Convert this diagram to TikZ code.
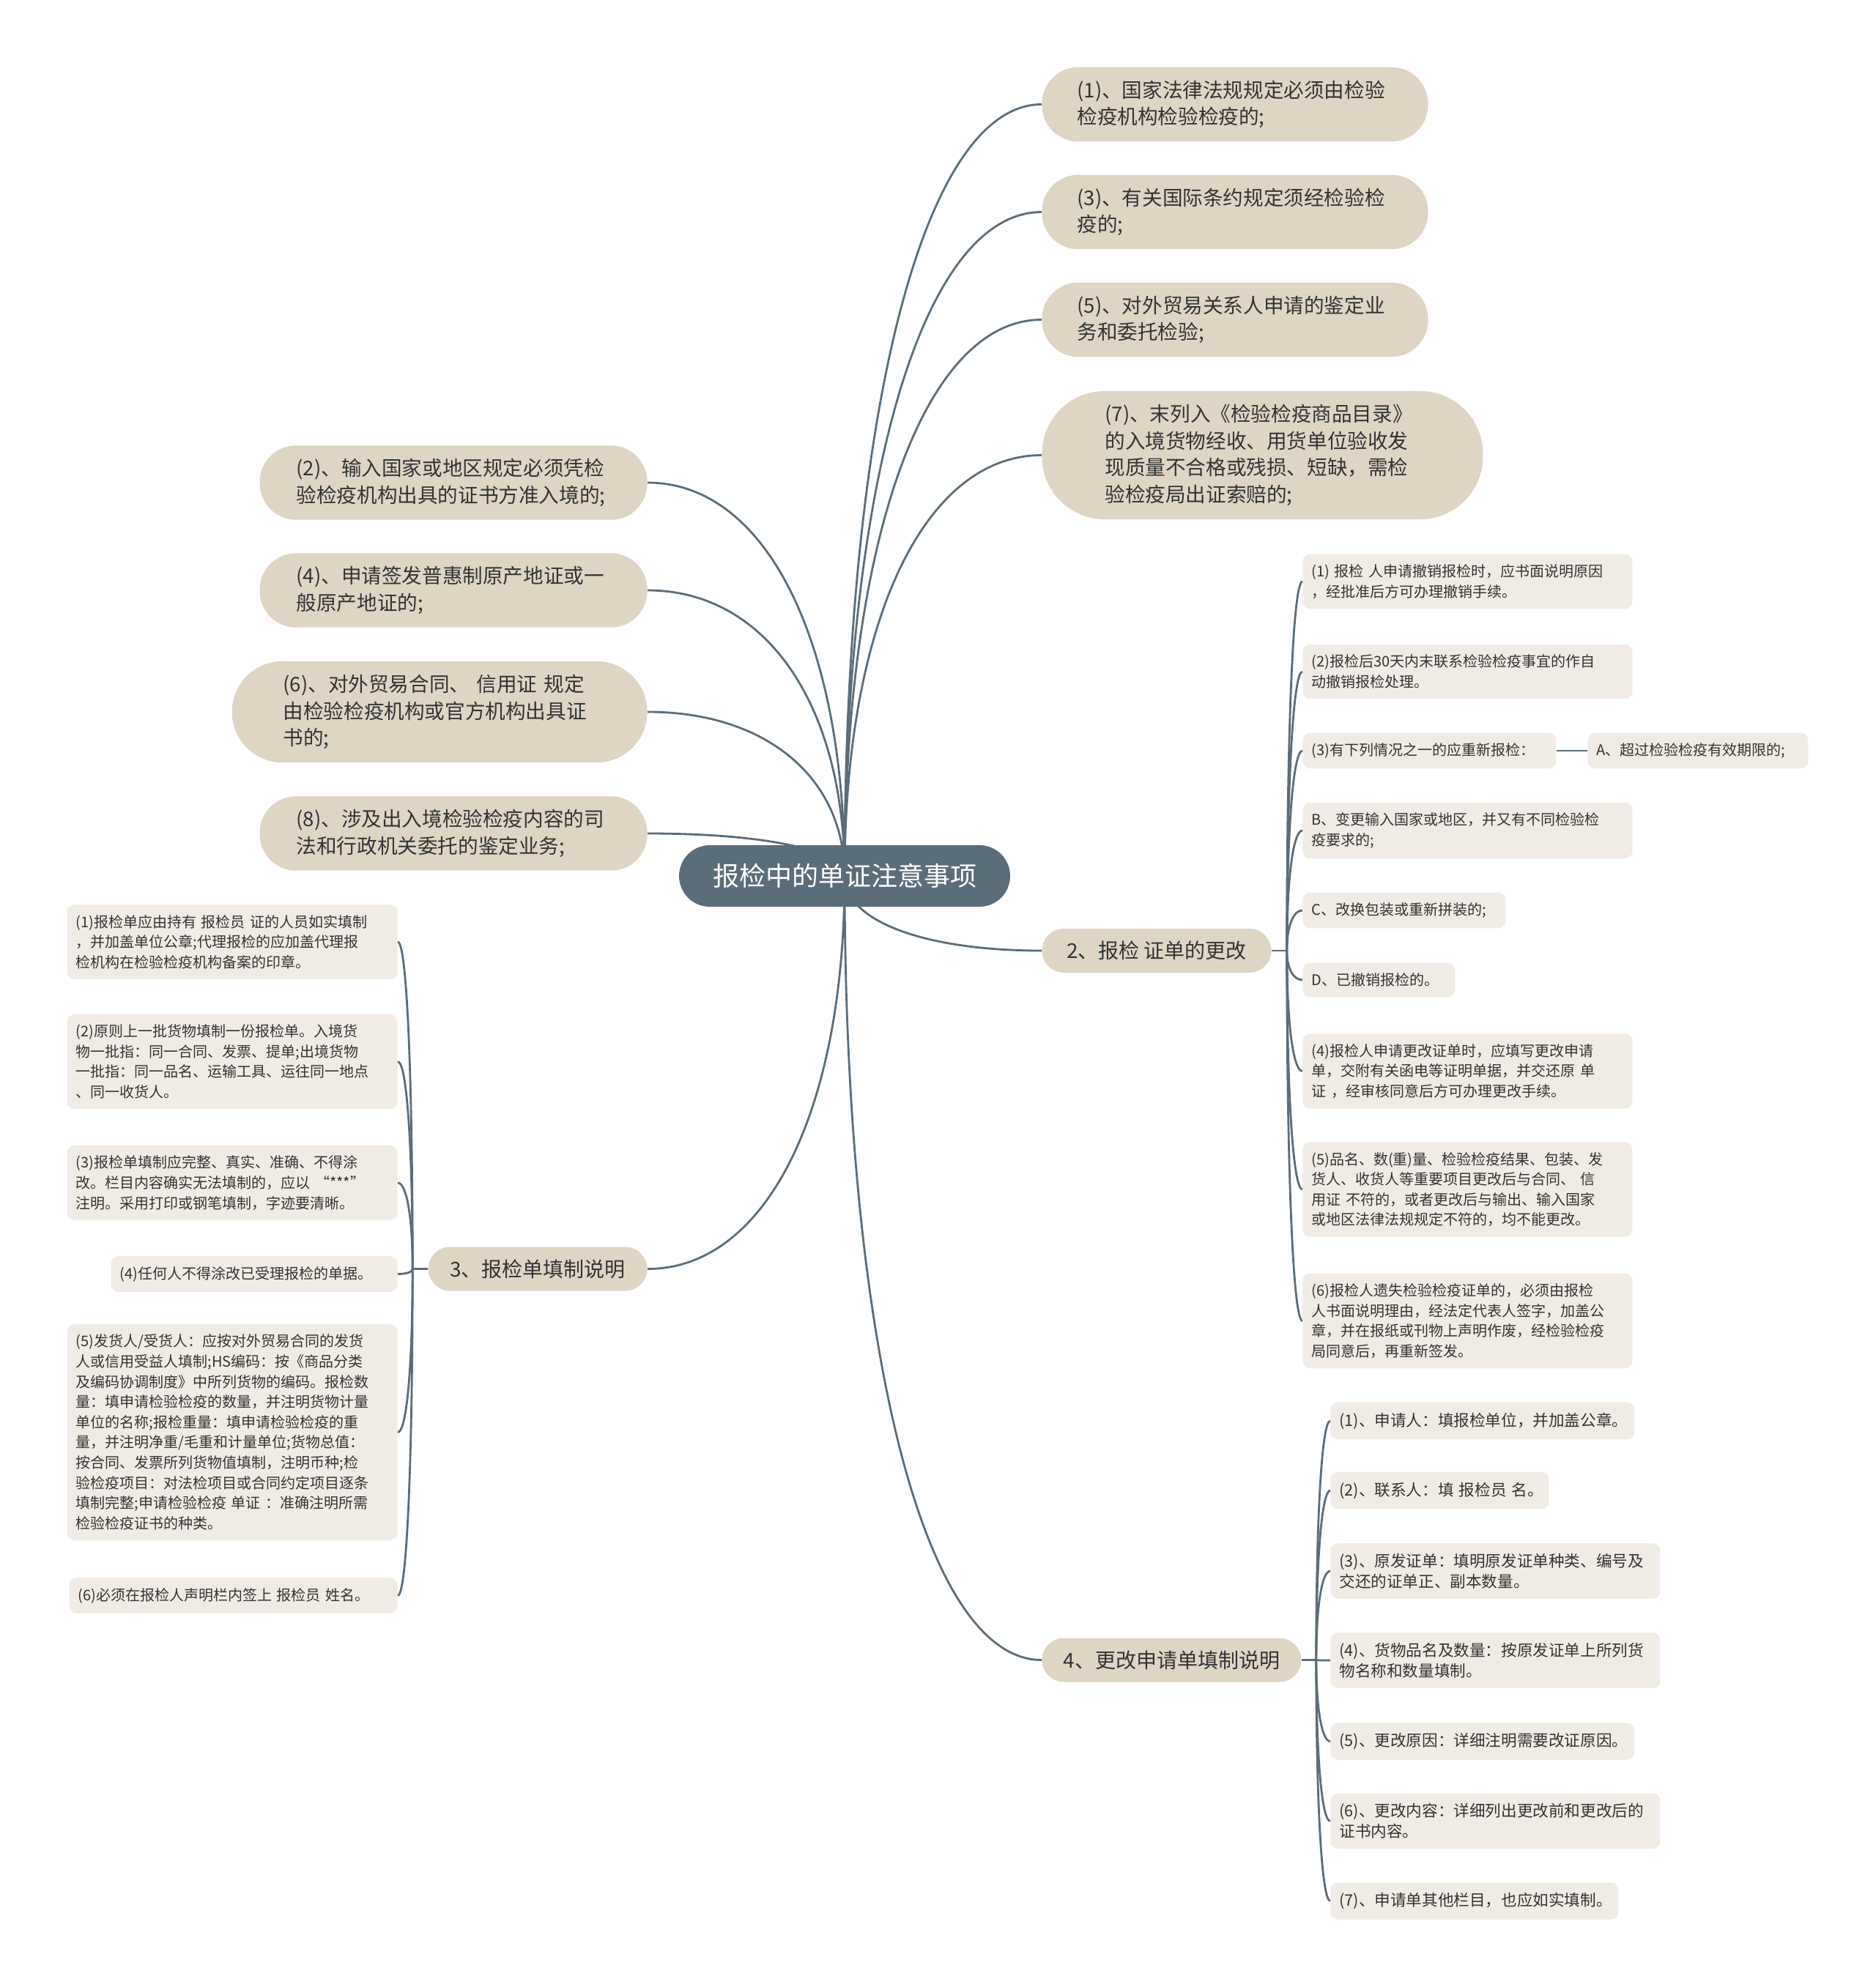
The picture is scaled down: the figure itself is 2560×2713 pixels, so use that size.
\documentclass[tikz,border=0pt]{standalone}
\usepackage{fontspec}
\setmainfont{Noto Sans CJK SC}
\usetikzlibrary{calc,backgrounds}
\definecolor{slate}{RGB}{91,109,121}
\definecolor{sand}{RGB}{222,213,197}
\definecolor{paper}{RGB}{240,236,229}
\definecolor{ink}{RGB}{51,51,51}
\newcommand\rootfont{\fontsize{18}{22}\selectfont}
\newcommand\topicfont{\fontsize{13.8}{18.4}\selectfont}
\newcommand\branchfont{\fontsize{14}{18}\selectfont}
\newcommand\leaffont{\fontsize{10}{13.8}\selectfont}
\newcommand\leafwfont{\fontsize{10.8}{13.8}\selectfont}
\newcommand\mmlink[2]{\draw[link] (#1) .. controls ($(#1)!0.6!(#1 |- #2)$) and ($(#2)!0.6!(#1 |- #2)$) .. (#2);}

\begin{document}
\begin{tikzpicture}[x=0.5pt,y=-0.5pt,
  rootnd/.style={fill=slate,text=white,rounded corners=21pt,minimum width=226pt,minimum height=42pt,font=\rootfont},
  topic/.style={fill=sand,text=ink,align=left,font=\topicfont,inner ysep=9pt,rounded corners=24.75pt},
  branch/.style={fill=sand,text=ink,font=\branchfont,minimum height=30pt,rounded corners=15pt},
  leaf/.style={fill=paper,text=ink,align=left,font=\leaffont,inner xsep=6pt,inner ysep=7pt,rounded corners=5pt},
  link/.style={draw=slate,line width=1.4pt}
]
\useasboundingbox (0,0) rectangle (2560,2713);

\node[rootnd] (root) at (1153,1196) {报检中的单证注意事项};

\node[topic,anchor=west,text width=215.5pt,inner xsep=24pt] (t1) at (1422,142.5)
  {(1)、国家法律法规规定必须由检验\\检疫机构检验检疫的;};
\node[topic,anchor=west,text width=215.5pt,inner xsep=24pt] (t3) at (1422,289.5)
  {(3)、有关国际条约规定须经检验检\\疫的;};
\node[topic,anchor=west,text width=215.5pt,inner xsep=24pt] (t5) at (1422,436.5)
  {(5)、对外贸易关系人申请的鉴定业\\务和委托检验;};
\node[topic,anchor=west,text width=215pt,inner xsep=43pt,rounded corners=42.75pt] (t7) at (1422,621.5)
  {(7)、末列入《检验检疫商品目录》\\的入境货物经收、用货单位验收发\\现质量不合格或残损、短缺，需检\\验检疫局出证索赔的;};

\node[topic,anchor=east,text width=214.5pt,inner xsep=25pt] (t2) at (884,659)
  {(2)、输入国家或地区规定必须凭检\\验检疫机构出具的证书方准入境的;};
\node[topic,anchor=east,text width=214.5pt,inner xsep=25pt] (t4) at (884,806)
  {(4)、申请签发普惠制原产地证或一\\般原产地证的;};
\node[topic,anchor=east,text width=213.5pt,inner xsep=35pt,rounded corners=34.5pt] (t6) at (884,972)
  {(6)、对外贸易合同、~信用证~规定\\由检验检疫机构或官方机构出具证\\书的;};
\node[topic,anchor=east,text width=214.5pt,inner xsep=25pt] (t8) at (884,1138)
  {(8)、涉及出入境检验检疫内容的司\\法和行政机关委托的鉴定业务;};

\node[branch,anchor=west,minimum width=156.5pt] (b2) at (1422,1298) {2、报检~证单的更改};
\node[branch,anchor=east,minimum width=149.5pt] (b3) at (884,1732.5) {3、报检单填制说明};
\node[branch,anchor=west,minimum width=177pt] (b4) at (1422,2266.5) {4、更改申请单填制说明};

\node[leaf,anchor=west,text width=213pt] (a1) at (1778,794)
  {(1)~报检~人申请撤销报检时，应书面说明原因\\，经批准后方可办理撤销手续。};
\node[leaf,anchor=west,text width=213pt] (a2) at (1778,917)
  {(2)报检后30天内末联系检验检疫事宜的作自\\动撤销报检处理。};
\node[leaf,anchor=west,text width=161pt] (a3) at (1778,1025)
  {(3)有下列情况之一的应重新报检：};
\node[leaf,anchor=west,text width=138.5pt] (a3A) at (2167,1025)
  {A、超过检验检疫有效期限的;};
\node[leaf,anchor=west,text width=213pt] (aB) at (1778,1134)
  {B、变更输入国家或地区，并又有不同检验检\\疫要求的;};
\node[leaf,anchor=west,text width=126.5pt] (aC) at (1778,1243)
  {C、改换包装或重新拼装的;};
\node[leaf,anchor=west,text width=92pt] (aD) at (1778,1338)
  {D、已撤销报检的。};
\node[leaf,anchor=west,text width=213pt] (a4) at (1778,1462.5)
  {(4)报检人申请更改证单时，应填写更改申请\\单，交附有关函电等证明单据，并交还原~单\\证~，经审核同意后方可办理更改手续。};
\node[leaf,anchor=west,text width=213pt] (a5) at (1778,1624)
  {(5)品名、数(重)量、检验检疫结果、包装、发\\货人、收货人等重要项目更改后与合同、~信\\用证~不符的，或者更改后与输出、输入国家\\或地区法律法规规定不符的，均不能更改。};
\node[leaf,anchor=west,text width=213pt] (a6) at (1778,1803.5)
  {(6)报检人遗失检验检疫证单的，必须由报检\\人书面说明理由，经法定代表人签字，加盖公\\章，并在报纸或刊物上声明作废，经检验检疫\\局同意后，再重新签发。};

\node[leaf,anchor=east,text width=213.5pt] (c1) at (543,1286)
  {(1)报检单应由持有~报检员~证的人员如实填制\\，并加盖单位公章;代理报检的应加盖代理报\\检机构在检验检疫机构备案的印章。};
\node[leaf,anchor=east,text width=213.5pt] (c2) at (543,1449.5)
  {(2)原则上一批货物填制一份报检单。入境货\\物一批指：同一合同、发票、提单;出境货物\\一批指：同一品名、运输工具、运往同一地点\\、同一收货人。};
\node[leaf,anchor=east,text width=213.5pt] (c3) at (543,1615)
  {(3)报检单填制应完整、真实、准确、不得涂\\改。栏目内容确实无法填制的，应以~“***”\\注明。采用打印或钢笔填制，字迹要清晰。};
\node[leaf,anchor=east,text width=183.5pt] (c4) at (543,1739.5)
  {(4)任何人不得涂改已受理报检的单据。};
\node[leaf,anchor=east,text width=213.5pt] (c5) at (543,1955.5)
  {(5)发货人/受货人：应按对外贸易合同的发货\\人或信用受益人填制;HS编码：按《商品分类\\及编码协调制度》中所列货物的编码。报检数\\量：填申请检验检疫的数量，并注明货物计量\\单位的名称;报检重量：填申请检验检疫的重\\量，并注明净重/毛重和计量单位;货物总值：\\按合同、发票所列货物值填制，注明币种;检\\验检疫项目：对法检项目或合同约定项目逐条\\填制完整;申请检验检疫~单证~：准确注明所需\\检验检疫证书的种类。};
\node[leaf,anchor=east,text width=212pt] (c6) at (543,2178.5)
  {(6)必须在报检人声明栏内签上~报检员~姓名。};

\node[leaf,anchor=west,text width=195.5pt,font=\leafwfont] (d1) at (1816,1940)
  {(1)、申请人：填报检单位，并加盖公章。};
\node[leaf,anchor=west,text width=137pt,font=\leafwfont] (d2) at (1816,2035)
  {(2)、联系人：填~报检员~名。};
\node[leaf,anchor=west,text width=213pt,font=\leafwfont] (d3) at (1816,2145)
  {(3)、原发证单：填明原发证单种类、编号及\\交还的证单正、副本数量。};
\node[leaf,anchor=west,text width=213pt,font=\leafwfont] (d4) at (1816,2267)
  {(4)、货物品名及数量：按原发证单上所列货\\物名称和数量填制。};
\node[leaf,anchor=west,text width=195.5pt,font=\leafwfont] (d5) at (1816,2377.5)
  {(5)、更改原因：详细注明需要改证原因。};
\node[leaf,anchor=west,text width=213pt,font=\leafwfont] (d6) at (1816,2486.5)
  {(6)、更改内容：详细列出更改前和更改后的\\证书内容。};
\node[leaf,anchor=west,text width=184.5pt,font=\leafwfont] (d7) at (1816,2595.5)
  {(7)、申请单其他栏目，也应如实填制。};

\begin{scope}[on background layer]
\fill[white] (0,0) rectangle (2560,2713);
\foreach \n in {t1,t3,t5,t7} {\mmlink{root.center}{\n.west}}
\foreach \n in {t2,t4,t6,t8} {\mmlink{root.center}{\n.east}}
\mmlink{root.center}{b2.west}
\mmlink{root.center}{b3.east}
\mmlink{root.center}{b4.west}

\coordinate (s2) at ($(b2.east)+(21,0)$);
\draw[link] (b2.east) -- (s2);
\foreach \n in {a1,a2,a3,aB,aC,aD,a4,a5,a6} {\mmlink{s2}{\n.west}}
\draw[link] (a3.east) -- (a3A.west);

\coordinate (s3) at ($(b3.west)+(-21,0)$);
\draw[link] (b3.west) -- (s3);
\foreach \n in {c1,c2,c3,c4,c5,c6} {\mmlink{s3}{\n.east}}

\coordinate (s4) at ($(b4.east)+(20,0)$);
\draw[link] (b4.east) -- (s4);
\foreach \n in {d1,d2,d3,d4,d5,d6,d7} {\mmlink{s4}{\n.west}}
\end{scope}
\end{tikzpicture}
\end{document}
